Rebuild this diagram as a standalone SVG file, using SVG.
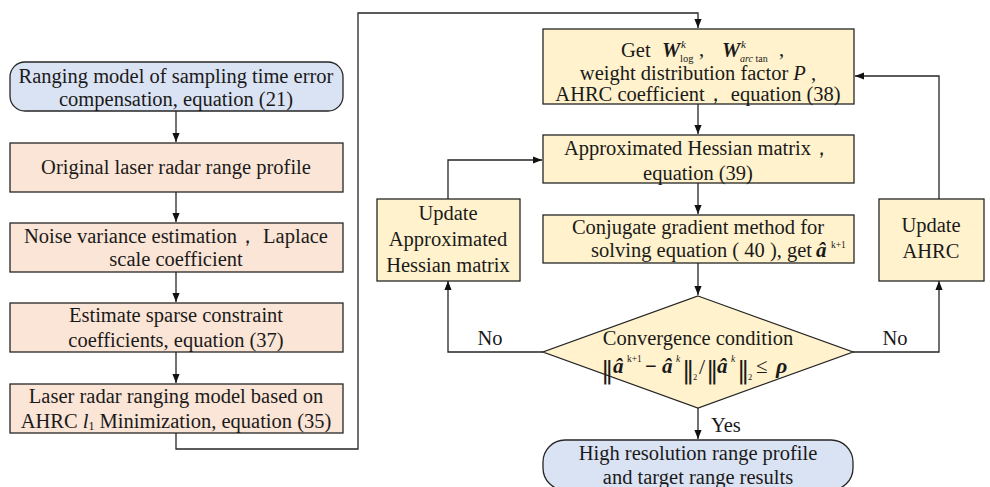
<svg xmlns="http://www.w3.org/2000/svg" width="990" height="487" viewBox="0 0 990 487">
<style>
text{font-family:"Liberation Serif","Times New Roman",serif !important}
text.dbar{font-family:"DejaVu Serif","DejaVu Sans",serif !important}
.t{text-anchor:middle}
.s{text-anchor:start}
.e{text-anchor:end}
.bi{font-weight:bold;font-style:italic}
.it{font-style:italic}
.peach{fill:#fbe5d6;stroke:#262626;stroke-width:1.3}
.blue{fill:#dae3f3;stroke:#262626;stroke-width:1.3}
.yel{fill:#fff2cc;stroke:#262626;stroke-width:1.3}
.ln{fill:none;stroke:#262626;stroke-width:1.3}
</style>
<defs>
<marker id="ah" viewBox="0 0 10 8" markerWidth="9" markerHeight="7.5" refX="10" refY="4" orient="auto" markerUnits="userSpaceOnUse">
<path d="M0,0 L10,4 L0,8 z" fill="#111"/>
</marker>
</defs>
<g font-family="Liberation Serif, Times New Roman, serif" font-size="20.5" fill="#1a1a1a">
<g id="connectors">
<path class="ln" d="M176,111 V142" marker-end="url(#ah)"/>
<path class="ln" d="M176,192 V222" marker-end="url(#ah)"/>
<path class="ln" d="M176,272 V302" marker-end="url(#ah)"/>
<path class="ln" d="M176,352 V383" marker-end="url(#ah)"/>
<path class="ln" d="M176,433 V449 H358 V13 H698 V28" marker-end="url(#ah)"/>
<path class="ln" d="M698,104 V134" marker-end="url(#ah)"/>
<path class="ln" d="M698,183 V214" marker-end="url(#ah)"/>
<path class="ln" d="M698,263 V295" marker-end="url(#ah)"/>
<path class="ln" d="M698,408 V439" marker-end="url(#ah)"/>
<path class="ln" d="M543,352 H448 V281" marker-end="url(#ah)"/>
<path class="ln" d="M448,199 V160 H542" marker-end="url(#ah)"/>
<path class="ln" d="M853,352 H939 V281" marker-end="url(#ah)"/>
<path class="ln" d="M939,199 V76 H855" marker-end="url(#ah)"/>
<text class="t" x="490" y="345">No</text>
<text class="t" x="895" y="345">No</text>
<text class="s" x="711" y="432">Yes</text>
</g>

<g id="start">
<rect class="blue" x="10" y="62" width="333" height="49" rx="15"/>
<text class="t" x="176" y="83">Ranging model of sampling time error</text>
<text class="t" x="176" y="106">compensation, equation (21)</text>
</g>

<g id="original">
<rect class="peach" x="10" y="143" width="333" height="49"/>
<text class="t" x="176" y="174">Original laser radar range profile</text>
</g>

<g id="noise">
<rect class="peach" x="10" y="223" width="333" height="49"/>
<text class="t" x="176" y="243">Noise variance estimation， Laplace</text>
<text class="t" x="176" y="266">scale coefficient</text>
</g>

<g id="estimate">
<rect class="peach" x="10" y="303" width="333" height="49"/>
<text class="t" x="176" y="322">Estimate sparse constraint</text>
<text class="t" x="176" y="347">coefficients, equation (37)</text>
</g>

<g id="laser">
<rect class="peach" x="10" y="384" width="333" height="49"/>
<text class="t" x="176" y="403">Laser radar ranging model based on</text>
<text class="t" x="176" y="428">AHRC <tspan class="it">l</tspan><tspan font-size="12" dy="2">1</tspan><tspan dy="-2"> Minimization, equation (35)</tspan></text>
</g>

<g id="get-weights">
<rect class="yel" x="543" y="29" width="311" height="75"/>
<text class="s" x="621" y="57">Get</text>
<text class="s bi" x="662" y="57">W</text>
<text class="s it" x="681" y="48" font-size="11">k</text>
<text class="s" x="680" y="62" font-size="10.5">log</text>
<text class="s" x="699" y="56">,</text>
<text class="s bi" x="722" y="57">W</text>
<text class="s it" x="741" y="48" font-size="11">k</text>
<text class="s" x="740" y="62" font-size="10"><tspan class="it">arc</tspan> tan</text>
<text class="s" x="779" y="56">,</text>
<text class="t" x="698" y="80">weight distribution factor <tspan class="it">P</tspan> ,</text>
<text class="t" x="698" y="101">AHRC coefficient， equation (38)</text>
</g>

<g id="hessian">
<rect class="yel" x="543" y="135" width="311" height="48"/>
<text class="t" x="698" y="155">Approximated Hessian matrix，</text>
<text class="t" x="698" y="180">equation (39)</text>
</g>

<g id="conjugate">
<rect class="yel" x="543" y="215" width="311" height="48"/>
<text class="t" x="698" y="234">Conjugate gradient method for</text>
<text class="e" x="812" y="257">solving equation ( 40 ), get</text>
<text class="s bi" x="816" y="257" font-size="21">â</text>
<text class="s" x="831" y="248" font-size="9.5">k+1</text>
</g>

<g id="convergence">
<polygon class="yel" points="698,296 853,352 698,408 543,352"/>
<text class="t" x="698" y="345">Convergence condition</text>
<text class="s dbar" x="601" y="378" font-size="25">‖</text>
<text class="s bi" x="613" y="373" font-size="21">â</text>
<text class="s" x="627" y="362" font-size="9.5">k+1</text>
<text class="s" x="645" y="373" font-weight="bold">−</text>
<text class="s bi" x="662" y="373" font-size="21">â</text>
<text class="s it" x="676" y="362" font-size="9.5">k</text>
<text class="s dbar" x="682" y="378" font-size="25">‖</text>
<text class="s" x="693" y="380" font-size="8.5">2</text>
<text class="s" x="699" y="374" font-size="22">/</text>
<text class="s dbar" x="706" y="378" font-size="25">‖</text>
<text class="s bi" x="717" y="373" font-size="21">â</text>
<text class="s it" x="731" y="362" font-size="9.5">k</text>
<text class="s dbar" x="737" y="378" font-size="25">‖</text>
<text class="s" x="748" y="380" font-size="8.5">2</text>
<text class="s" x="756" y="373" font-size="21">≤</text>
<text class="s bi" x="776" y="373" font-size="22">ρ</text>
</g>

<g id="update-hessian">
<rect class="yel" x="377" y="199" width="143" height="82"/>
<text class="t" x="448" y="220">Update</text>
<text class="t" x="448" y="246">Approximated</text>
<text class="t" x="448" y="272">Hessian matrix</text>
</g>

<g id="update-ahrc">
<rect class="yel" x="879" y="199" width="105" height="82"/>
<text class="t" x="931" y="232">Update</text>
<text class="t" x="931" y="258">AHRC</text>
</g>

<g id="end">
<rect class="blue" x="543" y="440" width="310" height="50" rx="22"/>
<text class="t" x="698" y="460">High resolution range profile</text>
<text class="t" x="698" y="484">and target range results</text>
</g>
</g>
</svg>
